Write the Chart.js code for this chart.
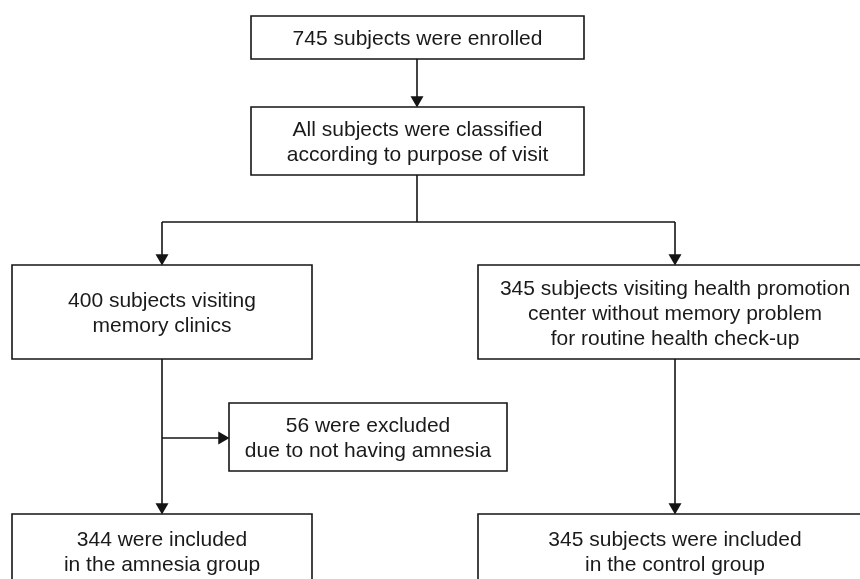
<!DOCTYPE html>
<html>
<head>
<meta charset="utf-8">
<script src="https://cdn.jsdelivr.net/npm/chart.js@4.4.1/dist/chart.umd.min.js"></script>
<style>
  html, body { margin: 0; padding: 0; background: #ffffff; }
  #wrap { width: 860px; height: 579px; position: relative; }
</style>
</head>
<body>
<div id="wrap"><canvas id="c"></canvas></div>
<script>
// ---- Flowchart content (text of each step) ----
const enrolledText   = ['745 subjects were enrolled'];
const classifiedText = ['All subjects were classified', 'according to purpose of visit'];
const memoryText     = ['400 subjects visiting', 'memory clinics'];
const healthText     = ['345 subjects visiting health promotion', 'center without memory problem', 'for routine health check-up'];
const excludedText   = ['56 were excluded', 'due to not having amnesia'];
const amnesiaText    = ['344 were included', 'in the amnesia group'];
const controlText    = ['345 subjects were included', 'in the control group'];

// ---- Layout in chart units (x: 0..860, y: 0..579 from top) ----
const boxes = [
  { lines: enrolledText,   x1: 251, y1: 16,  x2: 584, y2: 59 },
  { lines: classifiedText, x1: 251, y1: 107, x2: 584, y2: 175 },
  { lines: memoryText,     x1: 12,  y1: 265, x2: 312, y2: 359 },
  { lines: healthText,     x1: 478, y1: 265, x2: 872, y2: 359 },
  { lines: excludedText,   x1: 229, y1: 403, x2: 507, y2: 471 },
  { lines: amnesiaText,    x1: 12,  y1: 514, x2: 312, y2: 592 },
  { lines: controlText,    x1: 478, y1: 514, x2: 872, y2: 592 }
];
const connectors = [
  [[417, 59], [417, 104]],
  [[417, 175], [417, 222]],
  [[162, 222], [675, 222]],
  [[162, 222], [162, 260]],
  [[675, 222], [675, 260]],
  [[162, 359], [162, 509]],
  [[162, 438], [224, 438]],
  [[675, 359], [675, 509]]
];
const arrowsDown  = [[417, 100], [162, 258], [675, 258], [162, 507], [675, 507]];
const arrowsRight = [[222, 438]];

const INK = '#141414';
const datasets = [];
boxes.forEach(b => {
  datasets.push({
    type: 'line',
    data: [{x: b.x1, y: b.y1}, {x: b.x2, y: b.y1}, {x: b.x2, y: b.y2}, {x: b.x1, y: b.y2}, {x: b.x1, y: b.y1}],
    borderColor: INK, borderWidth: 1.6, pointRadius: 0, fill: false, tension: 0, clip: false,
    borderJoinStyle: 'miter', borderCapStyle: 'square'
  });
});
connectors.forEach(c => {
  datasets.push({
    type: 'line',
    data: c.map(p => ({x: p[0], y: p[1]})),
    borderColor: INK, borderWidth: 1.6, pointRadius: 0, fill: false, tension: 0, clip: false
  });
});
datasets.push({
  type: 'scatter',
  data: arrowsDown.map(p => ({x: p[0], y: p[1]})),
  pointStyle: 'triangle', rotation: 180, pointRadius: 7.5,
  backgroundColor: INK, borderColor: INK, borderWidth: 0, clip: false
});
datasets.push({
  type: 'scatter',
  data: arrowsRight.map(p => ({x: p[0], y: p[1]})),
  pointStyle: 'triangle', rotation: 90, pointRadius: 7.5,
  backgroundColor: INK, borderColor: INK, borderWidth: 0, clip: false
});

const textPlugin = {
  id: 'boxText',
  afterDatasetsDraw(chart) {
    const ctx = chart.ctx;
    const xs = chart.scales.x, ys = chart.scales.y;
    ctx.save();
    ctx.fillStyle = '#1a1a1a';
    ctx.font = '21px "Liberation Sans", Arial, sans-serif';
    ctx.textAlign = 'center';
    ctx.textBaseline = 'middle';
    const lh = 25;
    boxes.forEach(b => {
      const cx = (xs.getPixelForValue(b.x1) + xs.getPixelForValue(b.x2)) / 2;
      let cy;
      if (b.y2 > 579) {
        cy = ys.getPixelForValue(b.y1) + 14 + lh * b.lines.length / 2;
      } else {
        cy = (ys.getPixelForValue(b.y1) + ys.getPixelForValue(b.y2)) / 2 + 2;
      }
      const top = cy - lh * (b.lines.length - 1) / 2;
      b.lines.forEach((t, i) => ctx.fillText(t, cx, top + i * lh));
    });
    ctx.restore();
  }
};

new Chart(document.getElementById('c'), {
  type: 'scatter',
  data: { datasets },
  options: {
    responsive: true,
    maintainAspectRatio: false,
    animation: false,
    events: [],
    layout: { padding: 0, autoPadding: false },
    scales: {
      x: { type: 'linear', min: 0, max: 860, display: false },
      y: { type: 'linear', min: 0, max: 579, reverse: true, display: false }
    },
    plugins: { legend: { display: false }, tooltip: { enabled: false } }
  },
  plugins: [textPlugin]
});
</script>
</body>
</html>
